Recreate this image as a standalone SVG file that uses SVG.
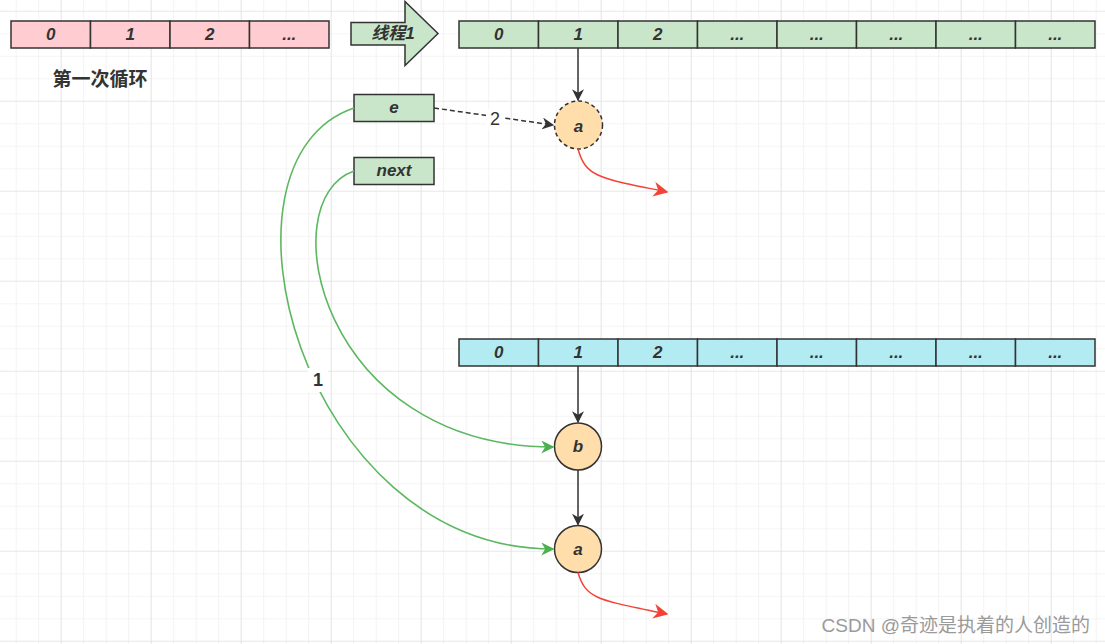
<svg xmlns="http://www.w3.org/2000/svg" width="1105" height="644" viewBox="0 0 1105 644">
<defs>
<pattern id="minor" x="15.7" y="10.8" width="22.5" height="22.5" patternUnits="userSpaceOnUse">
<path d="M0,0 H22.5 M0,0 V22.5" fill="none" stroke="#ebebeb" stroke-width="1.2"/>
</pattern>
<pattern id="major" x="60.7" y="10.7" width="90" height="90" patternUnits="userSpaceOnUse">
<path d="M0,0 H90 M0,0 V90" fill="none" stroke="#dedede" stroke-width="1.2"/>
</pattern>
<marker id="ab" viewBox="0 0 10 10" refX="9" refY="5" markerWidth="12" markerHeight="12" markerUnits="userSpaceOnUse" orient="auto"><path d="M0,0 L10,5 L0,10 L3,5 Z" fill="#333"/></marker>
<marker id="ag" viewBox="0 0 10 10" refX="9" refY="5" markerWidth="13" markerHeight="13" markerUnits="userSpaceOnUse" orient="auto"><path d="M0,0 L10,5 L0,10 L3,5 Z" fill="#4caf50"/></marker>
<marker id="ar" viewBox="0 0 10 10" refX="9" refY="5" markerWidth="15" markerHeight="15" markerUnits="userSpaceOnUse" orient="auto"><path d="M0,0 L10,5 L0,10 L3,5 Z" fill="#f44336"/></marker>
</defs>
<style>
.cell{stroke:#333;stroke-width:1.5}
.pink{fill:#ffccd1}
.green{fill:#c9e6ca}
.cyan{fill:#b3ebf2}
.t{font-family:"Liberation Sans","Noto Sans CJK SC",sans-serif;font-style:italic;font-weight:bold;font-size:17px;fill:#333;text-anchor:middle;dominant-baseline:central}
.circ{fill:#ffdeab;stroke:#333;stroke-width:1.5}
.blk{fill:none;stroke:#333;stroke-width:1.5}
.gr{fill:none;stroke:#5cb860;stroke-width:1.6}
.rd{fill:none;stroke:#f44336;stroke-width:1.5}
.lbl{font-family:"Liberation Sans",sans-serif;font-size:18px;fill:#333;text-anchor:middle;dominant-baseline:central}
</style>
<rect width="1105" height="644" fill="#ffffff"/>
<rect width="1105" height="644" fill="url(#minor)"/>
<rect width="1105" height="644" fill="url(#major)"/>

<g id="array-pink">
<rect class="cell pink" x="11" y="21" width="79.5" height="27"/>
<rect class="cell pink" x="90.5" y="21" width="79.5" height="27"/>
<rect class="cell pink" x="170" y="21" width="79.5" height="27"/>
<rect class="cell pink" x="249.5" y="21" width="79.5" height="27"/>
<text class="t" x="50.75" y="34.5">0</text>
<text class="t" x="130.25" y="34.5">1</text>
<text class="t" x="209.75" y="34.5">2</text>
<text class="t" x="289.25" y="34.5">...</text>
</g>

<g id="label-loop">
<text x="100" y="79" font-family="'Liberation Sans','Noto Sans CJK SC',sans-serif" font-weight="bold" font-size="19" fill="#333" text-anchor="middle" dominant-baseline="central">第一次循环</text>
</g>

<g id="thread-arrow">
<path d="M351,22.5 H405 V1.5 L438,33.5 L405,65.5 V45 H351 Z" fill="#c9e6ca" stroke="#333" stroke-width="1.5"/>
<text class="t" x="393" y="33.5" font-size="19">线程1</text>
</g>

<g id="array-green">
<rect class="cell green" x="459" y="21" width="79.5" height="27"/>
<rect class="cell green" x="538.5" y="21" width="79.5" height="27"/>
<rect class="cell green" x="618" y="21" width="79.5" height="27"/>
<rect class="cell green" x="697.5" y="21" width="79.5" height="27"/>
<rect class="cell green" x="777" y="21" width="79.5" height="27"/>
<rect class="cell green" x="856.5" y="21" width="79.5" height="27"/>
<rect class="cell green" x="936" y="21" width="79.5" height="27"/>
<rect class="cell green" x="1015.5" y="21" width="79.5" height="27"/>
<text class="t" x="498.75" y="34.5">0</text>
<text class="t" x="578.25" y="34.5">1</text>
<text class="t" x="657.75" y="34.5">2</text>
<text class="t" x="737.25" y="34.5">...</text>
<text class="t" x="816.75" y="34.5">...</text>
<text class="t" x="896.25" y="34.5">...</text>
<text class="t" x="975.75" y="34.5">...</text>
<text class="t" x="1055.25" y="34.5">...</text>
</g>

<g id="array-cyan">
<rect class="cell cyan" x="459" y="339" width="79.5" height="27"/>
<rect class="cell cyan" x="538.5" y="339" width="79.5" height="27"/>
<rect class="cell cyan" x="618" y="339" width="79.5" height="27"/>
<rect class="cell cyan" x="697.5" y="339" width="79.5" height="27"/>
<rect class="cell cyan" x="777" y="339" width="79.5" height="27"/>
<rect class="cell cyan" x="856.5" y="339" width="79.5" height="27"/>
<rect class="cell cyan" x="936" y="339" width="79.5" height="27"/>
<rect class="cell cyan" x="1015.5" y="339" width="79.5" height="27"/>
<text class="t" x="498.75" y="352.5">0</text>
<text class="t" x="578.25" y="352.5">1</text>
<text class="t" x="657.75" y="352.5">2</text>
<text class="t" x="737.25" y="352.5">...</text>
<text class="t" x="816.75" y="352.5">...</text>
<text class="t" x="896.25" y="352.5">...</text>
<text class="t" x="975.75" y="352.5">...</text>
<text class="t" x="1055.25" y="352.5">...</text>
</g>

<g id="node-e">
<rect class="cell green" x="354" y="94.5" width="80" height="27"/>
<text class="t" x="394" y="107" font-size="18">e</text>
</g>
<g id="node-next">
<rect class="cell green" x="354" y="157.5" width="80" height="27"/>
<text class="t" x="394" y="170.5" font-size="18">next</text>
</g>

<g id="node-a-top">
<circle class="circ" cx="578.5" cy="125" r="24" stroke-dasharray="4 3"/>
<text class="t" x="578.5" y="126">a</text>
</g>
<g id="node-b">
<circle class="circ" cx="578" cy="446.5" r="23.5"/>
<text class="t" x="578" y="446.5">b</text>
</g>
<g id="node-a-bottom">
<circle class="circ" cx="578" cy="549" r="23.5"/>
<text class="t" x="578" y="549.5">a</text>
</g>

<g id="connectors">
<path class="blk" d="M578,48 V100" marker-end="url(#ab)"/>
<path class="blk" d="M434,108 L553,125" stroke-dasharray="5 3" marker-end="url(#ab)"/>
<rect x="486" y="109" width="18" height="20" fill="#ffffff"/>
<text class="lbl" x="495" y="119">2</text>
<path class="rd" d="M578,149 C586,178 600,178 667,192" marker-end="url(#ar)"/>
<path class="blk" d="M578,366 V422" marker-end="url(#ab)"/>
<path class="blk" d="M578,470 V524.5" marker-end="url(#ab)"/>
<path class="rd" d="M578,572.5 C586,600 600,600 667,614" marker-end="url(#ar)"/>
<path class="gr" d="M354,108 C200,160 300,549 553,549" marker-end="url(#ag)"/>
<rect x="308" y="368" width="20" height="24" fill="#ffffff"/>
<text class="lbl" x="318" y="380" font-weight="bold" font-size="19">1</text>
<path class="gr" d="M354,171 C270,200 320,447 553,447" marker-end="url(#ag)"/>
</g>

<g id="watermark">
<text x="1090" y="625" font-family="'Liberation Sans','Noto Sans CJK SC',sans-serif" font-size="19" fill="#9a9a9a" text-anchor="end" dominant-baseline="central">CSDN @奇迹是执着的人创造的</text>
</g>
</svg>
